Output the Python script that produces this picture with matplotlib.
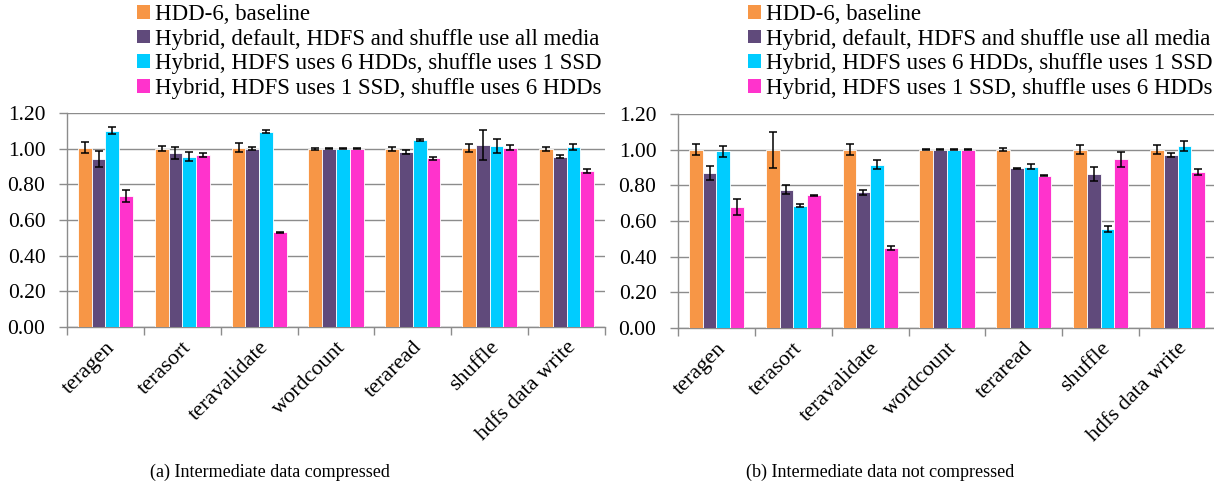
import matplotlib
matplotlib.use("Agg")
import matplotlib.pyplot as plt
from matplotlib.patches import Patch
import numpy as np

plt.rcParams['font.family'] = ['Liberation Serif', 'DejaVu Serif']

categories = ["teragen", "terasort", "teravalidate", "wordcount", "teraread", "shuffle", "hdfs data write"]
series = ["HDD-6, baseline",
          "Hybrid, default, HDFS and shuffle use all media",
          "Hybrid, HDFS uses 6 HDDs, shuffle uses 1 SSD",
          "Hybrid, HDFS uses 1 SSD, shuffle uses 6 HDDs"]
colors = ["#F79646", "#604A7B", "#00CCFF", "#FF33CC"]

# (a) Intermediate data compressed
comp_vals = [
    [1.005, 1.00, 1.005, 1.00, 1.00, 1.005, 1.00],
    [0.94, 0.975, 1.00, 1.00, 0.98, 1.02, 0.955],
    [1.10, 0.955, 1.095, 1.00, 1.05, 1.015, 1.01],
    [0.735, 0.965, 0.53, 1.00, 0.945, 1.005, 0.875],
]
comp_err = [
    [0.03, 0.015, 0.025, 0.006, 0.012, 0.022, 0.012],
    [0.045, 0.035, 0.01, 0.002, 0.012, 0.085, 0.01],
    [0.02, 0.025, 0.008, 0.002, 0.005, 0.037, 0.015],
    [0.035, 0.013, 0.005, 0.002, 0.008, 0.015, 0.012],
]
# (b) Intermediate data not compressed
nocomp_vals = [
    [1.00, 1.00, 1.00, 1.00, 1.00, 1.00, 1.00],
    [0.87, 0.775, 0.76, 1.00, 0.895, 0.865, 0.97],
    [0.99, 0.685, 0.915, 1.00, 0.905, 0.555, 1.02],
    [0.68, 0.745, 0.45, 1.00, 0.855, 0.945, 0.875],
]
nocomp_err = [
    [0.03, 0.10, 0.03, 0.002, 0.007, 0.025, 0.025],
    [0.04, 0.025, 0.015, 0.002, 0.005, 0.04, 0.01],
    [0.03, 0.008, 0.025, 0.003, 0.015, 0.015, 0.03],
    [0.045, 0.003, 0.01, 0.003, 0.003, 0.04, 0.015],
]
yticks = [0.0, 0.2, 0.4, 0.6, 0.8, 1.0, 1.2]
captions = ["(a) Intermediate data compressed", "(b) Intermediate data not compressed"]

W, H = 1214, 486
fig = plt.figure(figsize=(W / 100, H / 100), dpi=100)

grid_c = "#8C8C8C"
FS_TICK = 15.5
FS_XLAB = 16
FS_LEG = 16.5

def draw(ax, vals, errs):
    n = len(categories)
    x = np.arange(n)
    bw = 0.179
    offs = (np.arange(4) - 1.5) * bw
    for i in range(4):
        ax.bar(x + offs[i], vals[i], width=bw, color=colors[i],
               edgecolor="white", linewidth=0.6, zorder=3,
               yerr=errs[i], capsize=3,
               error_kw=dict(ecolor="black", elinewidth=1.1, capthick=1.1, zorder=4))
    ax.set_xlim(-0.5, n - 0.5)
    ax.set_ylim(0, 1.2)
    ax.set_yticks(yticks)
    ax.set_yticklabels([f"{v:.2f}" for v in yticks], fontsize=FS_TICK)
    ax.yaxis.grid(True, color=grid_c, linewidth=1.0, zorder=0)
    ax.set_axisbelow(True)
    ax.set_xticks(np.arange(n + 1) - 0.5)
    ax.set_xticklabels([])
    ax.set_xticks(x, minor=True)
    ax.set_xticklabels(categories, minor=True, rotation=45, ha="right",
                       rotation_mode="anchor", fontsize=FS_XLAB)
    ax.tick_params(axis="x", which="minor", length=0, pad=8)
    ax.tick_params(axis="x", which="major", length=6, color=grid_c, width=1)
    ax.tick_params(axis="y", length=5.5, color=grid_c, width=1, pad=10)
    for s in ["top", "right"]:
        ax.spines[s].set_visible(False)
    for s in ["left", "bottom"]:
        ax.spines[s].set_color(grid_c)
        ax.spines[s].set_linewidth(1.0)

ax1 = fig.add_axes([67 / W, 1 - 327 / H, 538 / W, 214 / H])
ax2 = fig.add_axes([678 / W, 1 - 328 / H, 538 / W, 214 / H])
draw(ax1, comp_vals, comp_err)
draw(ax2, nocomp_vals, nocomp_err)

handles = [Patch(facecolor=c, edgecolor="none") for c in colors]
for lx in (137, 748):
    fig.legend(handles, series, loc="upper left",
               bbox_to_anchor=(lx / W, 1 - 4 / H), frameon=False,
               fontsize=FS_LEG, handlelength=0.55, handleheight=0.55,
               handletextpad=0.25, labelspacing=0.16, borderpad=0, borderaxespad=0)

fig.text(270 / W, 1 - 472 / H, captions[0], ha="center", va="center", fontsize=13)
fig.text(880 / W, 1 - 472 / H, captions[1], ha="center", va="center", fontsize=13)

fig.savefig("out.png", dpi=100)
